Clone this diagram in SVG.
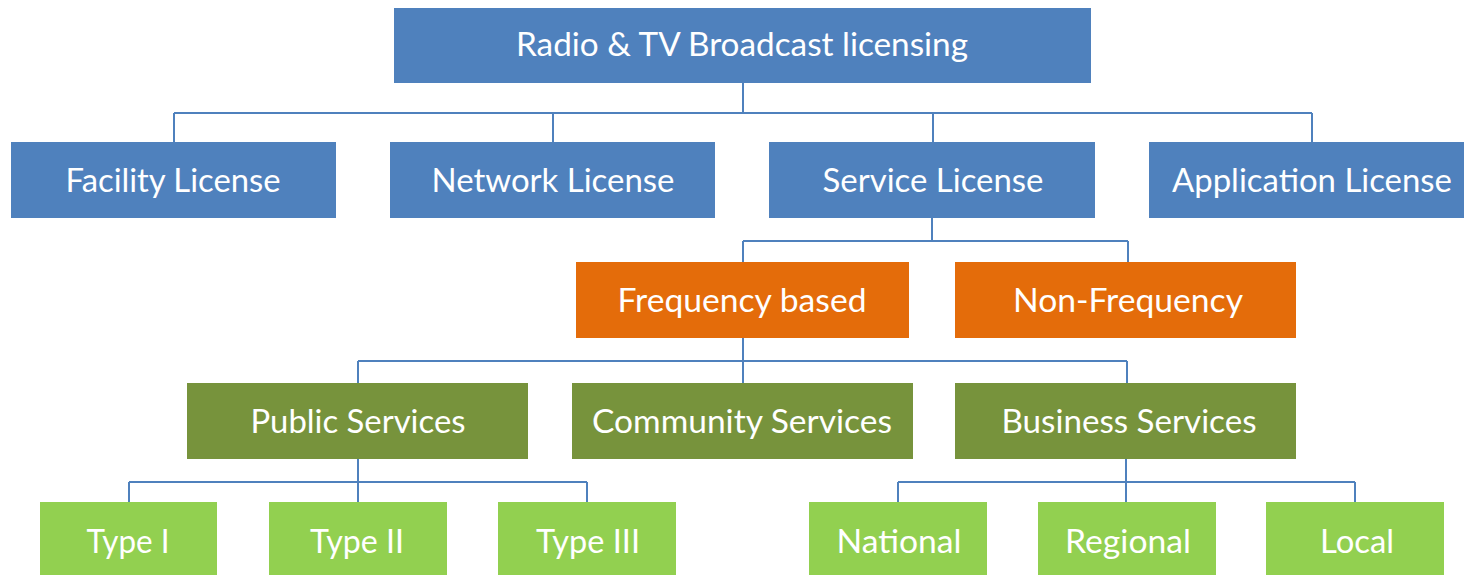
<svg xmlns="http://www.w3.org/2000/svg" width="1464" height="575" viewBox="0 0 1464 575">
<style>
.b{fill:#4F81BD}.o{fill:#E46C0A}.g{fill:#77933C}.l{fill:#92D050}
text{font-family:Lato,"Open Sans",sans-serif;font-size:32px;fill:#fff;text-anchor:middle}
.c{stroke:#4F81BD;stroke-width:2;fill:none}
</style>
<rect width="1464" height="575" fill="#fff"/>
<g id="connectors" class="c">
<path d="M743 82V113M174 113H1312M174 113V142M553 113V142M933 113V142M1312 113V142"/>
<path d="M932 217V241M743 241H1128M743 241V262M1128 241V262"/>
<path d="M743 338V383M358 361H1127M358 361V383M1127 361V383"/>
<path d="M358 459V482M129 482H587M129 482V502M358 482V502M587 482V502"/>
<path d="M1126 459V482M898 482H1355M898 482V502M1126 482V502M1355 482V502"/>
</g>
<g id="root"><rect class="b" x="394" y="8" width="697" height="75"/><text x="742" y="56" textLength="452" lengthAdjust="spacingAndGlyphs">Radio &amp; TV Broadcast licensing</text></g>
<g id="facility"><rect class="b" x="11" y="142" width="325" height="76"/><text x="173" y="192" textLength="215" lengthAdjust="spacingAndGlyphs">Facility License</text></g>
<g id="network"><rect class="b" x="390" y="142" width="325" height="76"/><text x="553" y="192" textLength="243" lengthAdjust="spacingAndGlyphs">Network License</text></g>
<g id="service"><rect class="b" x="769" y="142" width="326" height="76"/><text x="933" y="192" textLength="221" lengthAdjust="spacingAndGlyphs">Service License</text></g>
<g id="application"><rect class="b" x="1149" y="142" width="326" height="76"/><text x="1312" y="192" textLength="280" lengthAdjust="spacingAndGlyphs">Application License</text></g>
<g id="frequency"><rect class="o" x="576" y="262" width="333" height="76"/><text x="742" y="312" textLength="249" lengthAdjust="spacingAndGlyphs">Frequency based</text></g>
<g id="nonfrequency"><rect class="o" x="955" y="262" width="341" height="76"/><text x="1128" y="312" textLength="230" lengthAdjust="spacingAndGlyphs">Non-Frequency</text></g>
<g id="public"><rect class="g" x="187" y="383" width="341" height="76"/><text x="358" y="433" textLength="215" lengthAdjust="spacingAndGlyphs">Public Services</text></g>
<g id="community"><rect class="g" x="572" y="383" width="341" height="76"/><text x="742" y="433" textLength="300" lengthAdjust="spacingAndGlyphs">Community Services</text></g>
<g id="business"><rect class="g" x="955" y="383" width="341" height="76"/><text x="1129" y="433" textLength="255" lengthAdjust="spacingAndGlyphs">Business Services</text></g>
<g id="type1"><rect class="l" x="40" y="502" width="177" height="75"/><text x="128" y="553" textLength="83" lengthAdjust="spacingAndGlyphs">Type I</text></g>
<g id="type2"><rect class="l" x="269" y="502" width="178" height="75"/><text x="357" y="553" textLength="94" lengthAdjust="spacingAndGlyphs">Type II</text></g>
<g id="type3"><rect class="l" x="498" y="502" width="178" height="75"/><text x="588" y="553" textLength="104" lengthAdjust="spacingAndGlyphs">Type III</text></g>
<g id="national"><rect class="l" x="809" y="502" width="178" height="75"/><text x="899" y="553" textLength="125" lengthAdjust="spacingAndGlyphs">National</text></g>
<g id="regional"><rect class="l" x="1038" y="502" width="178" height="75"/><text x="1128" y="553" textLength="126" lengthAdjust="spacingAndGlyphs">Regional</text></g>
<g id="local"><rect class="l" x="1266" y="502" width="178" height="75"/><text x="1357" y="553" textLength="74" lengthAdjust="spacingAndGlyphs">Local</text></g>
</svg>
